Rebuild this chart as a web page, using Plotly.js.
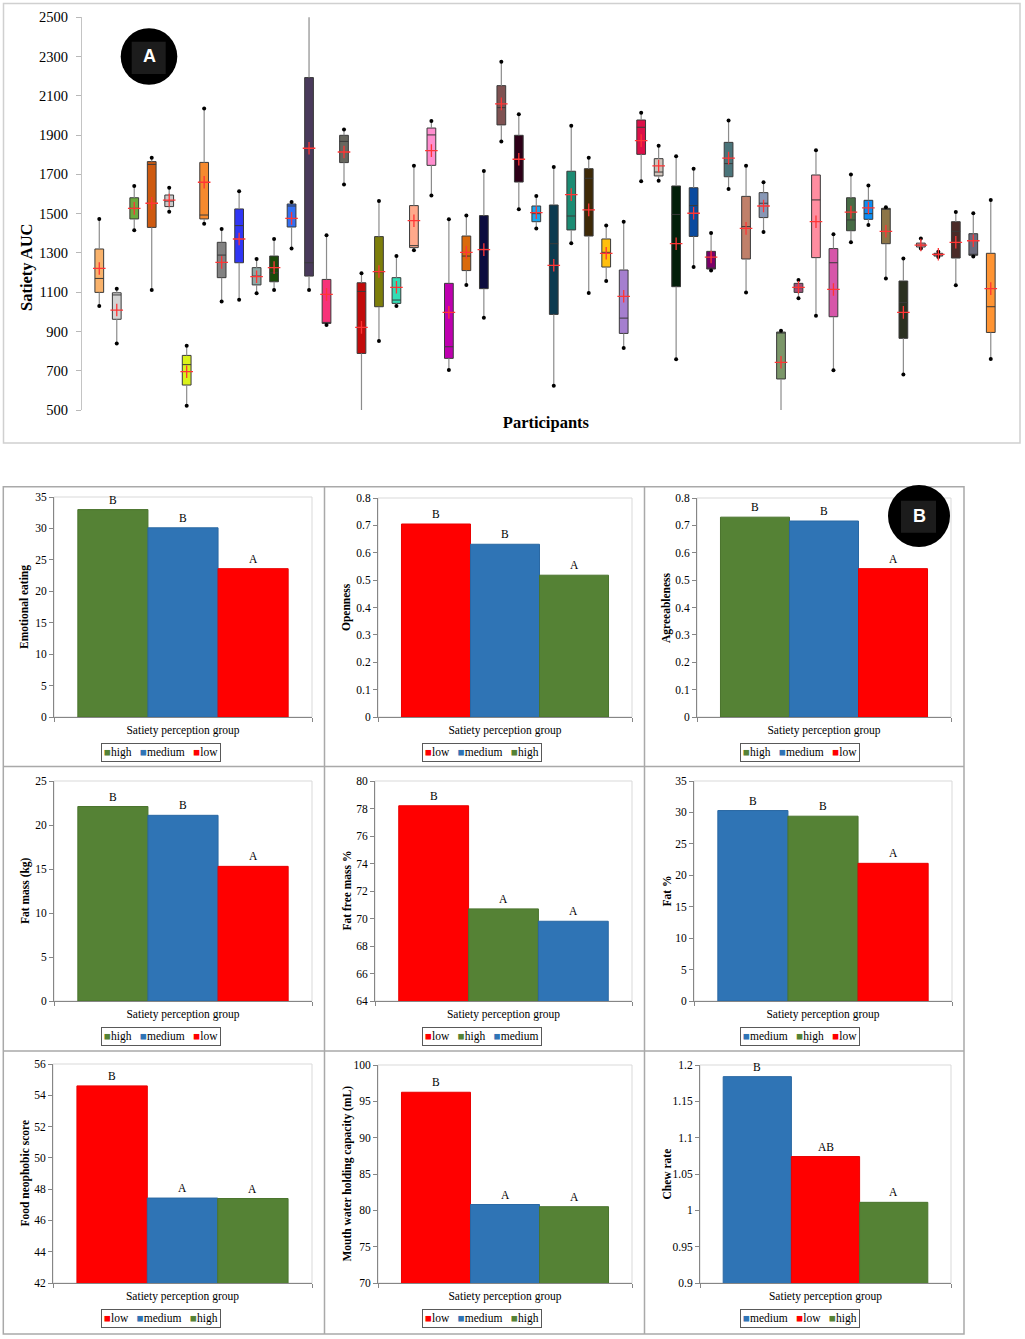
<!DOCTYPE html>
<html>
<head>
<meta charset="utf-8">
<script src="https://cdn.plot.ly/plotly-3.0.1.min.js"></script>
<style>
  html, body { margin: 0; padding: 0; background: #ffffff; }
  #chart { width: 1025px; height: 1339px; }
</style>
</head>
<body>
<div id="chart"></div>
<script>
// ---------------- Panel A : satiety AUC per participant ----------------
const participants = [1,2,3,4,5,6,7,8,9,10,11,12,13,14,15,16,17,18,19,20,21,22,23,24,25,26,
  27,28,29,30,31,32,33,34,35,36,37,38,39,40,41,42,43,44,45,46,47,48,49,50,51,52];
const aucMin = [1030,839,1415,1111,1510,522,1449,1052,1062,1094,1111,1323,1111,933,1649,440,
  851,1030,1313,1592,704,1137,970,1867,1522,1425,624,1349,1096,1157,816,1665,1667,758,1228,1210,
  1626,1099,1406,440,1069,980,702,1354,1442,1170,681,1322,1279,1135,1282,760];
const aucQ1 = [1099,962,1473,1430,1536,627,1473,1174,1250,1137,1153,1432,1182,941,1760,788,
  1026,1043,1327,1746,763,1210,1118,1952,1661,1459,987,1417,1386,1228,890,1802,1692,1128,1384,1218,
  1688,1269,1480,658,1099,1276,975,1413,1471,1347,865,1330,1284,1274,1288,895];
const aucMedian = [1170,1086,1527,1751,1564,731,1493,1289,1439,1182,1199,1539,1250,941,1868,1104,
  1203,1060,1337,1901,822,1284,1320,2040,1777,1500,1347,1488,1680,1303,968,1940,1712,1496,1541,1221,
  1755,1434,1553,897,1123,1570,1250,1468,1500,1527,1047,1340,1293,1410,1293,1026];
const aucQ3 = [1320,1097,1581,1765,1595,778,1761,1354,1524,1225,1284,1549,2193,1165,1899,1148,
  1383,1174,1541,1936,1145,1386,1490,2152,1899,1539,1544,1716,1729,1371,1213,1977,1780,1641,1632,1308,
  1863,1588,1607,897,1145,1697,1322,1581,1568,1527,1157,1350,1298,1459,1398,1298];
const aucMax = [1473,1118,1641,1785,1632,827,2036,1422,1614,1269,1371,1559,2560,1390,1929,1196,
  1564,1284,1744,1972,1471,1490,1717,2274,2006,1590,1738,1948,1785,1440,1459,2014,1846,1792,1729,1401,
  1975,1744,1660,904,1162,1823,1395,1700,1643,1532,1272,1373,1306,1508,1502,1570];
const aucMean = [1221,1009,1527,1553,1569,695,1660,1252,1371,1179,1225,1476,1833,1089,1814,921,
  1205,1125,1464,1821,997,1303,1317,2059,1777,1505,1237,1597,1519,1298,1079,1872,1743,1347,1502,1279,
  1783,1425,1539,743,1125,1459,1114,1508,1529,1410,997,1340,1293,1354,1362,1118];
const boxColors = ['#F9B26B','#D4D4D4','#6DAA3E','#CE5A10','#C9C9C9','#DAF21A','#F68A2E','#828282',
  '#3036F5','#8FA8A5','#1C4A0A','#3470F2','#493A5B','#F73279','#67675F','#C20B0B','#7D7E0B','#33DDB5',
  '#FFA98B','#FF8ECF','#BE00AF','#DA6A0B','#0C0C3E','#7F5252','#2D0018','#1CA6EE','#0C3A4F','#1C8B73',
  '#3E2A08','#FFBF0D','#A57FCF','#DC1048','#CFC3BA','#031F0A','#0A4A9F','#7A0069','#4A747A','#C0806A',
  '#8797B5','#7B9769','#A04D76','#FF8DA0','#D656A9','#476C45','#0B8DF5','#8D7548','#2B3121','#F5A5B0',
  '#D05868','#4A2B28','#6B6B7D','#FF9433'];

// ---------------- Panel B : group means ----------------
const emotionalGroups = ['high','medium','low'];
const emotionalMeans = [33.0, 30.1, 23.6];
const emotionalLetters = ['B','B','A'];

const opennessGroups = ['low','medium','high'];
const opennessMeans = [0.705, 0.631, 0.518];
const opennessLetters = ['B','B','A'];

const agreeGroups = ['high','medium','low'];
const agreeMeans = [0.730, 0.716, 0.542];
const agreeLetters = ['B','B','A'];

const fatMassGroups = ['high','medium','low'];
const fatMassMeans = [22.1, 21.1, 15.3];
const fatMassLetters = ['B','B','A'];

const fatFreeGroups = ['low','high','medium'];
const fatFreeMeans = [78.2, 70.7, 69.8];
const fatFreeLetters = ['B','A','A'];

const fatPctGroups = ['medium','high','low'];
const fatPctMeans = [30.3, 29.4, 21.9];
const fatPctLetters = ['B','B','A'];

const neoGroups = ['low','medium','high'];
const neoMeans = [54.6, 47.43, 47.4];
const neoLetters = ['B','A','A'];

const mouthGroups = ['low','medium','high'];
const mouthMeans = [96.25, 80.8, 80.5];
const mouthLetters = ['B','A','A'];

const chewGroups = ['medium','low','high'];
const chewMeans = [1.184, 1.074, 1.011];
const chewLetters = ['B','AB','A'];

const groupColors = { high: '#558235', medium: '#2F74B5', low: '#FF0000' };
const groupEdges  = { high: '#4A742D', medium: '#2A68A3', low: '#E80000' };

const barCharts = [
  { title: 'Emotional eating', groups: emotionalGroups, means: emotionalMeans, letters: emotionalLetters, range: [0, 35], dtick: 5 },
  { title: 'Openness', groups: opennessGroups, means: opennessMeans, letters: opennessLetters, range: [0, 0.8], dtick: 0.1 },
  { title: 'Agreeableness', groups: agreeGroups, means: agreeMeans, letters: agreeLetters, range: [0, 0.8], dtick: 0.1 },
  { title: 'Fat mass (kg)', groups: fatMassGroups, means: fatMassMeans, letters: fatMassLetters, range: [0, 25], dtick: 5 },
  { title: 'Fat free mass %', groups: fatFreeGroups, means: fatFreeMeans, letters: fatFreeLetters, range: [64, 80], dtick: 2 },
  { title: 'Fat %', groups: fatPctGroups, means: fatPctMeans, letters: fatPctLetters, range: [0, 35], dtick: 5 },
  { title: 'Food neophobic score', groups: neoGroups, means: neoMeans, letters: neoLetters, range: [42, 56], dtick: 2 },
  { title: 'Mouth water holding capacity (mL)', groups: mouthGroups, means: mouthMeans, letters: mouthLetters, range: [70, 100], dtick: 5 },
  { title: 'Chew rate', groups: chewGroups, means: chewMeans, letters: chewLetters, range: [0.9, 1.2], dtick: 0.05 }
];

// ---------------- geometry helpers (pixel -> paper) ----------------
const W = 1025, H = 1339;
const px = v => v / W;
const py = v => 1 - v / H;
const SERIF = '"Liberation Serif", "Times New Roman", serif';
const SANS = '"Liberation Sans", Arial, sans-serif';

// plot-area boxes of the nine bar charts, in pixels
const cells = [
  { x0: 54,  x1: 312, y0: 497,  y1: 717 },
  { x0: 378, x1: 632, y0: 498,  y1: 717 },
  { x0: 697, x1: 951, y0: 498,  y1: 717 },
  { x0: 54,  x1: 312, y0: 781,  y1: 1001 },
  { x0: 375, x1: 632, y0: 781,  y1: 1001 },
  { x0: 694, x1: 952, y0: 781,  y1: 1001 },
  { x0: 53,  x1: 312, y0: 1064, y1: 1283 },
  { x0: 378, x1: 632, y0: 1065, y1: 1283 },
  { x0: 700, x1: 951, y0: 1065, y1: 1283 }
];
const colLeft = [3, 324.5, 644.5];
const legendX = [161, 482, 800];
const legendY = [752, 1036.5, 1318.5];

const traces = [];
const annotations = [];
const shapes = [];

// ---------------- Panel A traces ----------------
participants.forEach((p, i) => {
  traces.push({
    type: 'box', x: [p],
    q1: [aucQ1[i]], median: [aucMedian[i]], q3: [aucQ3[i]],
    lowerfence: [aucQ1[i]], upperfence: [aucQ3[i]],
    width: 0.5, whiskerwidth: 0, boxpoints: false,
    fillcolor: boxColors[i], line: { color: '#3a3a3a', width: 1 },
    name: 'Participant ' + p, showlegend: false, xaxis: 'x', yaxis: 'y'
  });
});
const whiskX = [], whiskY = [];
participants.forEach((p, i) => {
  whiskX.push(p, p, null, p, p, null);
  whiskY.push(aucMin[i], aucQ1[i], null, aucQ3[i], aucMax[i], null);
});
traces.push({ type: 'scatter', mode: 'lines', x: whiskX, y: whiskY,
  line: { color: '#8c8c8c', width: 1.2 }, showlegend: false, hoverinfo: 'skip', xaxis: 'x', yaxis: 'y' });
traces.push({ type: 'scatter', mode: 'markers', x: participants.concat(participants), y: aucMin.concat(aucMax),
  marker: { color: '#000000', size: 4 }, showlegend: false, name: 'min / max', xaxis: 'x', yaxis: 'y' });
traces.push({ type: 'scatter', mode: 'markers', x: participants, y: aucMean,
  marker: { symbol: 'cross-thin', size: 9, color: '#FF3535', line: { color: '#FF3535', width: 1.3 } },
  showlegend: false, name: 'mean', xaxis: 'x', yaxis: 'y' });

const layout = {
  width: W, height: H,
  margin: { l: 0, r: 0, t: 0, b: 0 },
  paper_bgcolor: '#ffffff', plot_bgcolor: 'rgba(0,0,0,0)',
  showlegend: false,
  barmode: 'overlay',
  font: { family: SERIF, color: '#000000' },
  xaxis: {
    domain: [px(81.8), px(1010)], range: [0, 53.1],
    showline: false, showgrid: false, zeroline: false, showticklabels: false, ticks: '',
    title: { text: '<b>Participants</b>', font: { family: SERIF, size: 16.5, color: '#000' }, standoff: 6 },
    fixedrange: true
  },
  yaxis: {
    domain: [py(410), py(17.3)], range: [500, 2500], dtick: 200, tick0: 500,
    showline: true, linecolor: '#c4c4c4', linewidth: 1,
    ticks: 'outside', ticklen: 5, tickcolor: '#b8b8b8', ticklabelstandoff: 5,
    tickfont: { family: SERIF, size: 14.5, color: '#000' },
    showgrid: false, zeroline: false, fixedrange: true
  }
};

annotations.push({ xref: 'paper', yref: 'paper', x: px(26), y: py(267), text: '<b>Satiety AUC</b>',
  textangle: -90, showarrow: false, xanchor: 'center', yanchor: 'middle',
  font: { family: SERIF, size: 16.5, color: '#000' } });

// ---------------- Panel B traces ----------------
const pad = 0.34;
const FS = 11.5;
barCharts.forEach((c, k) => {
  const n = k + 2;
  const g = cells[k];
  c.groups.forEach((grp, j) => {
    traces.push({
      type: 'bar', x: [j], y: [c.means[j]], width: 1, name: grp,
      marker: { color: groupColors[grp], line: { color: groupEdges[grp], width: 1 } },
      xaxis: 'x' + n, yaxis: 'y' + n, showlegend: false
    });
    annotations.push({ xref: 'x' + n, yref: 'y' + n, x: j, y: c.means[j], text: c.letters[j],
      showarrow: false, xanchor: 'center', yanchor: 'bottom', yshift: 2,
      font: { family: SERIF, size: FS, color: '#000' } });
  });
  layout['xaxis' + n] = {
    domain: [px(g.x0), px(g.x1)], anchor: 'y' + n,
    range: [-0.5 - pad, c.groups.length - 0.5 + pad],
    tickmode: 'array', tickvals: [-0.5 - pad, c.groups.length - 0.5 + pad],
    showticklabels: false, ticks: 'outside', ticklen: 4, tickcolor: '#868686',
    showline: true, linecolor: '#868686', linewidth: 1,
    showgrid: false, zeroline: false, fixedrange: true,
    title: { text: 'Satiety perception group', font: { family: SERIF, size: FS, color: '#000' }, standoff: 4 }
  };
  layout['yaxis' + n] = {
    domain: [py(g.y1), py(g.y0)], anchor: 'x' + n,
    range: c.range, dtick: c.dtick, tick0: c.range[0],
    ticks: 'outside', ticklen: 4, tickcolor: '#868686',
    showline: true, linecolor: '#868686', linewidth: 1,
    tickfont: { family: SERIF, size: FS, color: '#000' },
    showgrid: false, zeroline: false, fixedrange: true
  };
  // light plot-area frame (top / right edges)
  shapes.push({ type: 'rect', xref: 'x' + n + ' domain', yref: 'y' + n + ' domain',
    x0: 0, x1: 1, y0: 0, y1: 1, line: { color: '#d9d9d9', width: 1 }, layer: 'below' });
  // y-axis title
  const col = k % 3, row = Math.floor(k / 3);
  annotations.push({ xref: 'paper', yref: 'paper', x: px(colLeft[col] + 22), y: py((g.y0 + g.y1) / 2),
    text: '<b>' + c.title + '</b>', textangle: -90, showarrow: false, xanchor: 'center', yanchor: 'middle',
    font: { family: SERIF, size: FS, color: '#000' } });
  // legend box
  const legText = c.groups.map(grp => '<span style="color:' + groupColors[grp] + '">\u25A0</span>' + grp)
    .join('\u00a0\u00a0\u00a0');
  annotations.push({ xref: 'paper', yref: 'paper', x: px(legendX[col]), y: py(legendY[row]),
    xanchor: 'center', yanchor: 'middle', text: legText, showarrow: false,
    bordercolor: '#595959', borderwidth: 1, borderpad: 2,
    font: { family: SERIF, size: FS, color: '#000' } });
});

// ---------------- frames ----------------
shapes.push({ type: 'rect', xref: 'paper', yref: 'paper', x0: px(3.5), x1: px(1020), y0: py(443), y1: py(3.5),
  line: { color: '#d0d0d0', width: 1.5 }, layer: 'below' });
shapes.push({ type: 'rect', xref: 'paper', yref: 'paper', x0: px(3.3), x1: px(964), y0: py(1334), y1: py(486.7),
  line: { color: '#a9a9a9', width: 1.5 }, layer: 'below' });
[324.5, 644.5].forEach(xv => shapes.push({ type: 'line', xref: 'paper', yref: 'paper',
  x0: px(xv), x1: px(xv), y0: py(1334), y1: py(486.7), line: { color: '#a9a9a9', width: 1.5 }, layer: 'below' }));
[766.5, 1051].forEach(yv => shapes.push({ type: 'line', xref: 'paper', yref: 'paper',
  x0: px(3.3), x1: px(964), y0: py(yv), y1: py(yv), line: { color: '#a9a9a9', width: 1.5 }, layer: 'below' }));

// ---------------- panel badges ----------------
function badge(cx, cy, r, sq, letter) {
  shapes.push({ type: 'circle', xref: 'paper', yref: 'paper',
    x0: px(cx - r), x1: px(cx + r), y0: py(cy + r), y1: py(cy - r),
    fillcolor: '#000000', line: { color: '#000000', width: 0 } });
  shapes.push({ type: 'rect', xref: 'paper', yref: 'paper',
    x0: px(sq[0]), x1: px(sq[2]), y0: py(sq[3]), y1: py(sq[1]),
    fillcolor: '#1c1c1c', line: { width: 0 } });
  annotations.push({ xref: 'paper', yref: 'paper', x: px(cx), y: py(cy), text: '<b>' + letter + '</b>',
    showarrow: false, xanchor: 'center', yanchor: 'middle',
    font: { family: SANS, size: 18, color: '#ffffff' } });
}
badge(149, 56.5, 28.3, [131.7, 41.7, 165.7, 74], 'A');
badge(919, 516, 31, [901, 500.7, 936, 532.7], 'B');

layout.annotations = annotations;
layout.shapes = shapes;

Plotly.newPlot('chart', traces, layout, { displayModeBar: false, staticPlot: true });
</script>
</body>
</html>
